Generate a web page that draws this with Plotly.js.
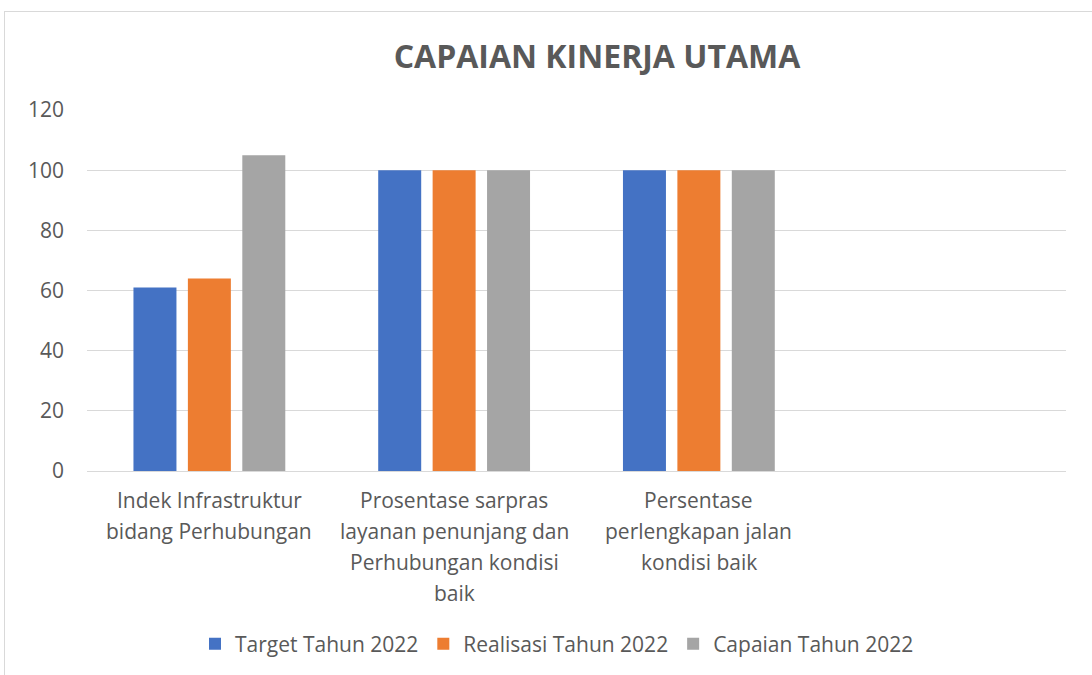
<!DOCTYPE html>
<html>
<head>
<meta charset="utf-8">
<script src="https://cdn.plot.ly/plotly-3.0.1.min.js"></script>
<style>
  html, body { margin: 0; padding: 0; background: #fff; overflow: hidden; }
  #wrap { position: relative; width: 1092px; height: 675px; }
  #chart { width: 1092px; height: 675px; }
  #frame { position: absolute; left: 4px; top: 11px; width: 1200px; height: 800px;
           border: 1px solid #d9d9d9; pointer-events: none; box-sizing: border-box; }
</style>
</head>
<body>
<div id="wrap">
  <div id="chart"></div>
  <div id="frame"></div>
</div>
<script>
const chartTitle = "CAPAIAN KINERJA UTAMA";
const categories = [
  "Indek Infrastruktur bidang Perhubungan",
  "Prosentase sarpras layanan penunjang dan Perhubungan kondisi baik",
  "Persentase perlengkapan jalan kondisi baik"
];
const categoryLines = [
  ["Indek Infrastruktur", "bidang Perhubungan"],
  ["Prosentase sarpras", "layanan penunjang dan", "Perhubungan kondisi", "baik"],
  ["Persentase", "perlengkapan jalan", "kondisi baik"]
];
const seriesNames = ["Target Tahun 2022", "Realisasi Tahun 2022", "Capaian Tahun 2022"];
const targetValues = [61, 100, 100];
const realisasiValues = [64, 100, 100];
const capaianValues = [105, 100, 100];
const seriesColors = ["#4472C4", "#ED7D31", "#A5A5A5"];
const yTicks = [0, 20, 40, 60, 80, 100, 120];

const font = "'Open Sans', 'Liberation Sans', sans-serif";
const textColor = "#595959";

const seriesValues = [targetValues, realisasiValues, capaianValues];
const traces = seriesNames.map((name, i) => ({
  type: "bar",
  name: name,
  x: categories,
  y: seriesValues[i],
  marker: { color: seriesColors[i] },
  hoverinfo: "x+y+name"
}));

const annotations = [];
categoryLines.forEach((lines, ci) => {
  lines.forEach((line, li) => {
    annotations.push({
      xref: "x", yref: "y",
      x: categories[ci], y: 0,
      text: line,
      showarrow: false,
      xanchor: "center", yanchor: "middle",
      yshift: -(29 + li * 31),
      font: { family: font, size: 21, color: textColor }
    });
  });
});

const layout = {
  width: 1092, height: 675,
  margin: { l: 87, r: 26, t: 110, b: 204 },
  paper_bgcolor: "rgba(0,0,0,0)",
  plot_bgcolor: "#ffffff",
  title: {
    text: "<b>" + chartTitle + "</b>",
    xref: "container", yref: "container",
    x: 597 / 1092, xanchor: "center",
    y: 1 - 57 / 675, yanchor: "middle",
    font: { family: font, size: 32, color: textColor }
  },
  barmode: "group",
  bargap: 0.333,
  bargroupgap: 0.21,
  xaxis: {
    type: "category",
    categoryarray: categories,
    range: [-0.5, 3.5],
    showticklabels: false,
    showgrid: false,
    zeroline: false,
    showline: false,
    fixedrange: true
  },
  yaxis: {
    range: [0, 120],
    tickvals: yTicks,
    ticktext: yTicks.map(String),
    showgrid: true,
    gridcolor: "#d9d9d9",
    gridwidth: 1,
    zeroline: true,
    zerolinecolor: "#d9d9d9",
    zerolinewidth: 1,
    showline: false,
    ticks: "",
    ticklabelstandoff: 22,
    tickfont: { family: font, size: 21, color: textColor },
    fixedrange: true
  },
  showlegend: true,
  legend: {
    orientation: "h",
    xref: "container", yref: "container",
    x: 557 / 1092, xanchor: "center",
    y: 1 - 644 / 675, yanchor: "middle",
    font: { family: font, size: 21, color: textColor },
    itemwidth: 30,
    traceorder: "normal"
  },
  annotations: annotations
};

Plotly.newPlot("chart", traces, layout, { displayModeBar: false, staticPlot: true });
</script>
</body>
</html>
